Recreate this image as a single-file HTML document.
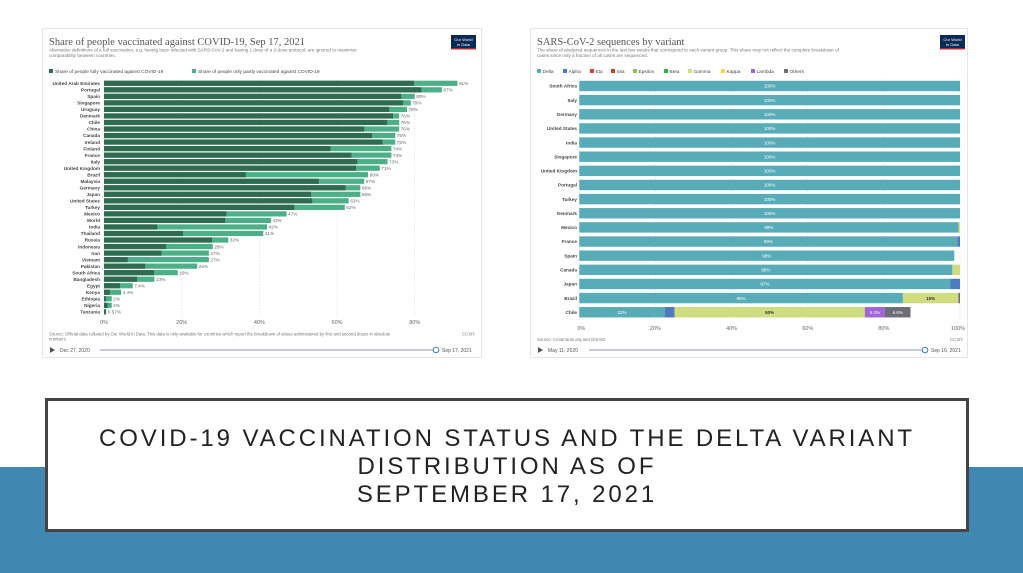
<!DOCTYPE html>
<html><head><meta charset="utf-8"><style>
html,body{margin:0;padding:0;background:#fff;}
body{width:1023px;height:573px;overflow:hidden;position:relative;font-family:"Liberation Sans",sans-serif;}
#band{position:absolute;left:0;top:467px;width:1023px;height:106px;background:#4088b2;}
#box{position:absolute;left:45px;top:398px;width:918px;height:128px;border:3px solid #444;background:#fff;text-align:center;}
#box div{font-size:24px;letter-spacing:2.9px;color:#222;line-height:28px;padding-top:24px;}
svg{position:absolute;left:0;top:0;}
</style></head><body>
<div id="band"></div>
<div id="box"><div>COVID-19 VACCINATION STATUS AND THE DELTA VARIANT<br>DISTRIBUTION AS OF<br>SEPTEMBER 17, 2021</div></div>
<svg id="s" width="1023" height="380" xmlns="http://www.w3.org/2000/svg" font-family="Liberation Sans, sans-serif"></svg>
<script>
var s=document.getElementById('s'),h='';
function t(x,y,txt,sz,fill,anchor,extra){h+='<text x="'+x+'" y="'+y+'" font-size="'+sz+'" fill="'+fill+'" text-anchor="'+(anchor||'start')+'" '+(extra||'')+'>'+txt+'</text>';}
function r(x,y,w,hh,f){h+='<rect x="'+x+'" y="'+y+'" width="'+w+'" height="'+hh+'" fill="'+f+'"/>';}
h+='<rect x="42.5" y="28.5" width="439" height="329" fill="#fff" stroke="#e6e6e6"/>';
h+='<rect x="530.5" y="28.5" width="437" height="329" fill="#fff" stroke="#e6e6e6"/>';
t(49,45,'Share of people vaccinated against COVID-19, Sep 17, 2021',10.5,'#555','start','font-family="Liberation Serif, serif"');
t(49,51.5,'Alternative definitions of a full vaccination, e.g. having been infected with SARS-CoV-2 and having 1 dose of a 2-dose protocol, are ignored to maximize',4.6,'#777');
t(49,57,'comparability between countries.',4.6,'#777');
r(49,69,4,4,'#2e6b4f');t(55,72.8,'Share of people fully vaccinated against COVID-19',4.8,'#444');
r(192,69,4,4,'#4caf88');t(198,72.8,'Share of people only partly vaccinated against COVID-19',4.8,'#444');
r(451,35,25,14,'#0b2a55');r(451,48,25,1.5,'#c0272d');t(463.5,41,'Our World',4,'#fff','middle');t(463.5,46,'in Data',4,'#fff','middle');
var L=[['United Arab Emirates',79.8,91,'91%'],['Portugal',81.7,87,'87%'],['Spain',76.5,80,'80%'],['Singapore',77,79,'79%'],['Uruguay',73.4,78,'78%'],['Denmark',74.4,76,'76%'],['Chile',72.9,76,'76%'],['China',67,76,'76%'],['Canada',69,75,'75%'],['Ireland',71.7,75,'75%'],['Finland',58.3,74,'74%'],['France',63.7,74,'74%'],['Italy',65.2,73,'73%'],['United Kingdom',64.9,71,'71%'],['Brazil',36.5,68,'68%'],['Malaysia',55.3,67,'67%'],['Germany',62.2,66,'66%'],['Japan',53.3,66,'66%'],['United States',53.6,63,'63%'],['Turkey',49,62,'62%'],['Mexico',31.5,47,'47%'],['World',31.2,43,'43%'],['India',13.7,42,'42%'],['Thailand',20.3,41,'41%'],['Russia',27.8,32,'32%'],['Indonesia',16,28,'28%'],['Iran',14.8,27,'27%'],['Vietnam',6.1,27,'27%'],['Pakistan',10.6,24,'24%'],['South Africa',12.9,19,'19%'],['Bangladesh',8.5,13,'13%'],['Egypt',4.1,7.4,'7.4%'],['Kenya',1.5,4.4,'4.4%'],['Ethiopia',0.5,2,'2%'],['Nigeria',0.9,2,'2%'],['Tanzania',0.5,0.57,'0.57%']];
var x0=104,k=3.884;
for(var g=0;g<=80;g+=20){h+='<line x1="'+(x0+g*k)+'" y1="80" x2="'+(x0+g*k)+'" y2="316" stroke="#ddd" stroke-width="0.6" stroke-dasharray="1.5,1.5"/>';t(x0+g*k,324,g+'%',5.5,'#666','middle');}
L.forEach(function(d,i){var yc=83.3+i*6.53;r(x0,yc-2.6,d[2]*k,5.2,'#4caf88');r(x0,yc-2.6,d[1]*k,5.2,'#2e6b4f');t(100,yc+1.7,d[0],4.7,'#444','end','font-weight="bold"');t(x0+d[2]*k+1.5,yc+1.7,d[3],4.7,'#666');});
t(49,335.5,'Source: Official data collated by Our World in Data. This data is only available for countries which report the breakdown of doses administered by first and second doses in absolute',4.3,'#777');
t(49,340.5,'numbers.',4.3,'#777');t(475,335.5,'CC BY',4.3,'#777','end');
h+='<path d="M50,347 L50,353 L55,350 Z" fill="#555"/>';t(60,351.8,'Dec 27, 2020',5,'#555');
h+='<line x1="100" y1="350" x2="436" y2="350" stroke="#aab" stroke-width="1.2"/><circle cx="436" cy="350" r="2.8" fill="#fff" stroke="#3b7dc4" stroke-width="1"/>';
t(442,351.8,'Sep 17, 2021',5,'#555');
t(537,45,'SARS-CoV-2 sequences by variant',10.5,'#555','start','font-family="Liberation Serif, serif"');
t(537,51.5,'The share of analyzed sequences in the last two weeks that correspond to each variant group. This share may not reflect the complete breakdown of',4.6,'#777');
t(537,57,'cases since only a fraction of all cases are sequenced.',4.6,'#777');
var lg=[['Delta','#58acb8',537],['Alpha','#4e7abf',563],['Eta','#e03a3e',590],['Iota','#c0442c',611],['Epsilon','#8bc34a',633],['Beta','#2eb04f',664],['Gamma','#cfdc7f',688],['Kappa','#f5da3a',721],['Lambda','#a264d9',751],['Others','#6d6e75',784]];
lg.forEach(function(d){r(d[2],69,4,4,d[1]);t(d[2]+5.5,72.8,d[0],4.8,'#444');});
r(940,35,25,14,'#0b2a55');r(940,48,25,1.5,'#c0272d');t(952.5,41,'Our World',4,'#fff','middle');t(952.5,46,'in Data',4,'#fff','middle');
var R0=579.3,rk=3.807;
for(var g=0;g<=100;g+=20){h+='<line x1="'+(R0+g*rk)+'" y1="79" x2="'+(R0+g*rk)+'" y2="320" stroke="#ddd" stroke-width="0.6" stroke-dasharray="1.5,1.5"/>';t(R0+g*rk+(g==0?2:g==100?-2:0),330,g+'%',5.5,'#666','middle');}
var D='#58acb8',A='#4e7abf',G='#cfdc7f',LA='#a264d9',O='#6d6e75';
var RR=[['South Africa',[[100,D,'100%']]],['Italy',[[100,D,'100%']]],['Germany',[[100,D,'100%']]],['United States',[[100,D,'100%']]],['India',[[100,D,'100%']]],['Singapore',[[100,D,'100%']]],['United Kingdom',[[100,D,'100%']]],['Portugal',[[100,D,'100%']]],['Turkey',[[100,D,'100%']]],['Denmark',[[100,D,'100%']]],['Mexico',[[99.6,D,'99%'],[0.4,G]]],['France',[[99.3,D,'99%'],[0.7,A]]],['Spain',[[98.5,D,'98%']]],['Canada',[[98,D,'98%'],[2,G]]],['Japan',[[97.5,D,'97%'],[2.5,A]]],['Brazil',[[85,D,'85%'],[14.6,G,'15%'],[0.4,O]]],['Chile',[[22.5,D,'22%'],[2.5,A],[50,G,'50%'],[5.3,LA,'5.3%'],[6.7,O,'6.6%']]]];
RR.forEach(function(d,i){var yc=86+i*14.14,x=R0;t(577,yc+1.7,d[0],4.7,'#444','end','font-weight="bold"');
d[1].forEach(function(sg){var w=sg[0]*rk;r(x,yc-5.2,w,10.4,sg[1]);if(sg[2])t(x+w/2,yc+1.7,sg[2],4.5,sg[1]==G?'#333':'#fff','middle',sg[1]==G?'font-weight="bold"':'');x+=w;});});
t(537,341,'Source: CoVariants.org and GISAID',4.3,'#777');t(963,341,'CC BY',4.3,'#777','end');
h+='<path d="M538,347 L538,353 L543,350 Z" fill="#555"/>';t(548,351.8,'May 11, 2020',5,'#555');
h+='<line x1="589" y1="350" x2="925" y2="350" stroke="#aab" stroke-width="1.2"/><circle cx="925" cy="350" r="2.8" fill="#fff" stroke="#3b7dc4" stroke-width="1"/>';
t(931,351.8,'Sep 16, 2021',5,'#555');
s.innerHTML=h;
</script>
</body></html>
